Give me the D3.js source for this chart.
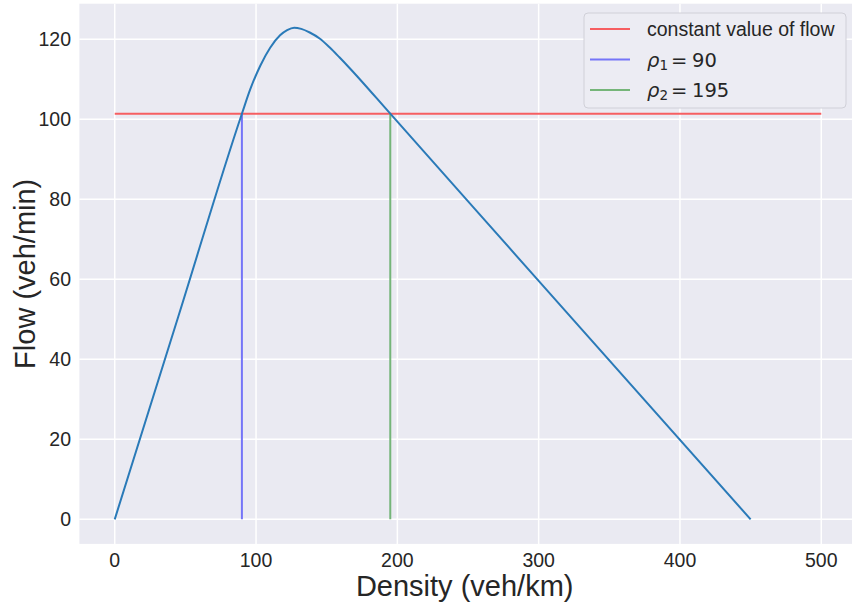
<!DOCTYPE html>
<html lang="en">

<head>
  <meta charset="UTF-8" />
  <title>Flow vs Density</title>
  <style>
    html,
    body {
      margin: 0;
      padding: 0;
      background: #fff;
    }

    svg {
      display: block;
      font-family: "Liberation Sans", Arial, sans-serif;
    }
  </style>
</head>

<body>
  <div id="chart"></div>

  <script src="https://d3js.org/d3.v7.min.js"></script>
  <script>
    // fundamental diagram, values
    const density = [0, 45, 90, 96, 103, 110, 117, 122, 127, 132, 138, 145, 152, 159, 166, 195, 300, 450];
    const flow = [0, 50.7, 101.4, 107.6, 113.4, 117.9, 121.0, 122.3, 122.9, 122.6, 121.7, 120.2, 118.0, 115.5, 112.9, 101.4, 59.6, 0];

    const constFlow = 101.4;
    const constSpan = [0, 500];
    const rho1 = 90, rho2 = 195;

    const xTicks = [0, 100, 200, 300, 400, 500];
    const yTicks = [0, 20, 40, 60, 80, 100, 120];

    const legendItems = [
      { label: "constant value of flow", color: "#f65e61" },
      { sym: "1", value: "90", color: "#7575f8" },
      { sym: "2", value: "195", color: "#75b579" }
    ];

    const W = 852, H = 604;
    const margin = { left: 79.4, right: 856.6, top: 3.7, bottom: 543.9 };

    const x = d3.scaleLinear().domain([-25, 525]).range([margin.left, margin.right]);
    const y = d3.scaleLinear().domain([-6.14, 128.9]).range([margin.bottom, margin.top]);

    const svg = d3.select("#chart").append("svg")
      .attr("width", W)
      .attr("height", H);

    svg.append("rect")
      .attr("x", margin.left).attr("y", margin.top)
      .attr("width", margin.right - margin.left)
      .attr("height", margin.bottom - margin.top)
      .attr("fill", "#eaeaf2");

    // grid
    const grid = svg.append("g").attr("stroke", "#fff").attr("stroke-width", 1.5);
    grid.selectAll(".gx").data(xTicks).join("line")
      .attr("x1", d => x(d)).attr("x2", d => x(d))
      .attr("y1", margin.top).attr("y2", margin.bottom);
    grid.selectAll(".gy").data(yTicks).join("line")
      .attr("y1", d => y(d)).attr("y2", d => y(d))
      .attr("x1", margin.left).attr("x2", margin.right);

    // tick labels
    svg.append("g").selectAll("text").data(xTicks).join("text")
      .attr("x", d => x(d)).attr("y", 567)
      .attr("text-anchor", "middle")
      .attr("font-size", 19.5)
      .attr("fill", "#262626")
      .text(d => d);

    svg.append("g").selectAll("text").data(yTicks).join("text")
      .attr("x", 71).attr("y", d => y(d))
      .attr("dy", "0.36em")
      .attr("text-anchor", "end")
      .attr("font-size", 19.5)
      .attr("fill", "#262626")
      .text(d => d);

    // axis titles
    svg.append("text")
      .attr("x", (margin.left + 850) / 2).attr("y", 596)
      .attr("text-anchor", "middle")
      .attr("font-size", 29)
      .attr("fill", "#262626")
      .text("Density (veh/km)");

    svg.append("text")
      .attr("transform", `translate(35,${(margin.top + margin.bottom) / 2}) rotate(-90)`)
      .attr("text-anchor", "middle")
      .attr("font-size", 29)
      .attr("fill", "#262626")
      .text("Flow (veh/min)");

    // reference lines
    svg.append("line")
      .attr("x1", x(constSpan[0])).attr("x2", x(constSpan[1]))
      .attr("y1", y(constFlow)).attr("y2", y(constFlow))
      .attr("stroke", legendItems[0].color).attr("stroke-width", 2);

    [[rho1, legendItems[1].color], [rho2, legendItems[2].color]].forEach(([r, c]) => {
      svg.append("line")
        .attr("x1", x(r)).attr("x2", x(r))
        .attr("y1", y(0)).attr("y2", y(constFlow))
        .attr("stroke", c).attr("stroke-width", 2);
    });

    // flow-density curve
    const line = d3.line()
      .x((d, i) => x(density[i]))
      .y(d => y(d))
      .curve(d3.curveMonotoneX);

    svg.append("path")
      .datum(flow)
      .attr("d", line)
      .attr("fill", "none")
      .attr("stroke", "#2a7ab8")
      .attr("stroke-width", 2);

    // legend
    const lg = svg.append("g").attr("transform", "translate(584,13)");
    lg.append("rect")
      .attr("width", 262).attr("height", 95)
      .attr("rx", 4)
      .attr("fill", "#ececf3")
      .attr("stroke", "#d0d0d8")
      .attr("stroke-width", 1);

    legendItems.forEach((it, i) => {
      const cy = 16 + i * 30.5;
      lg.append("line")
        .attr("x1", 6).attr("x2", 46)
        .attr("y1", cy).attr("y2", cy)
        .attr("stroke", it.color).attr("stroke-width", 2);

      const t = lg.append("text")
        .attr("x", 63).attr("y", cy + 7)
        .attr("font-size", 19.5)
        .attr("fill", "#262626");

      if (it.label) {
        t.text(it.label);
      } else {
        t.attr("font-family", "DejaVu Sans");
        t.append("tspan").attr("font-style", "italic").text("ρ");
        t.append("tspan").attr("font-size", 13.5).attr("dy", 3).text(it.sym);
        t.append("tspan").attr("dy", -3).attr("x", 87).text("=");
        t.append("tspan").attr("x", 108).text(it.value);
      }
    });
  </script>
</body>

</html>
